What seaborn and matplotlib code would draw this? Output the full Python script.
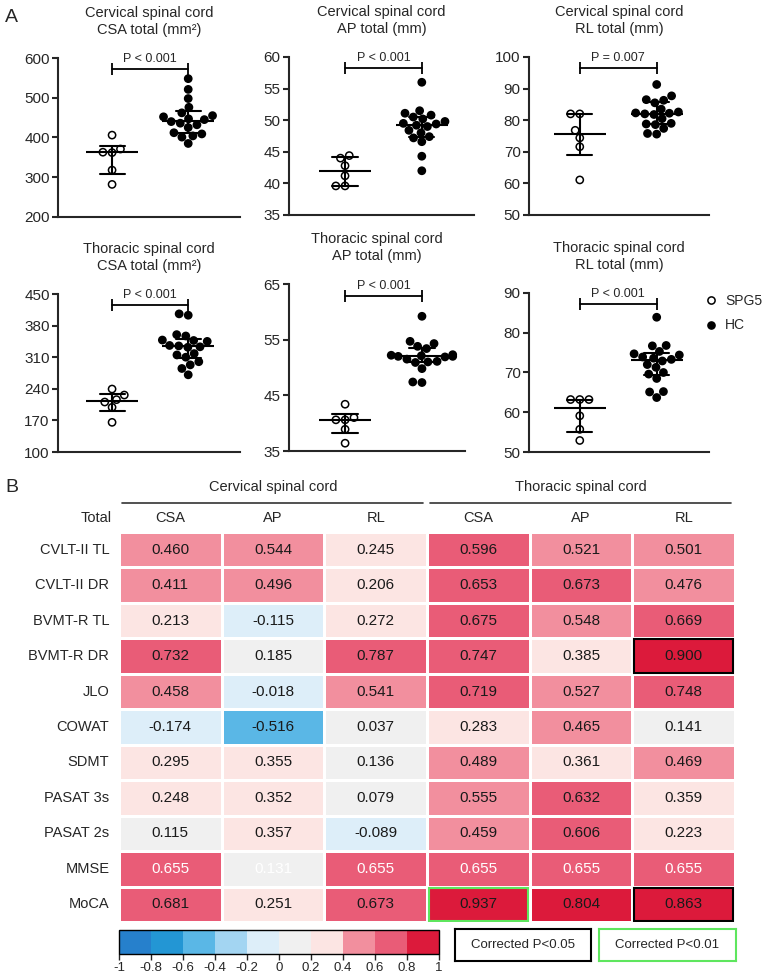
import numpy as np
import pandas as pd
import seaborn as sns
import matplotlib.pyplot as plt
from matplotlib.colors import ListedColormap, BoundaryNorm
from matplotlib.lines import Line2D
from matplotlib.patches import Rectangle

sns.set_style('ticks')
plt.rcParams['font.family'] = ['Liberation Sans', 'DejaVu Sans']

# ---------------- A: dot plots ----------------
groups = ['SPG5', 'HC']

spg5_c_csa = [406, 371, 362, 363, 318, 282]
hc_c_csa = [548, 521, 498, 476, 462, 455, 452, 447, 445, 440, 436, 432, 425, 412, 409, 404, 401, 385]
spg5_c_ap = [44.4, 44.0, 42.8, 41.2, 39.6, 39.6]
hc_c_ap = [56.0, 51.5, 51.1, 50.8, 50.5, 50.2, 49.8, 49.5, 49.4, 49.2, 49.0, 48.4, 48.0, 47.4, 47.2, 46.6, 44.3, 42.0]
spg5_c_rl = [82.0, 82.0, 76.8, 74.4, 71.6, 61.1]
hc_c_rl = [91.3, 87.7, 86.5, 86.3, 85.5, 83.5, 82.6, 82.3, 82.2, 82.0, 81.8, 80.5, 79.0, 78.8, 78.6, 77.4, 75.8, 75.6]
spg5_t_csa = [239.5, 226.2, 216.0, 210.7, 199.0, 165.7]
hc_t_csa = [406, 403, 360, 357, 348, 347, 345, 336, 335, 333, 332, 318, 315, 310, 300, 293, 285, 271]
spg5_t_ap = [43.4, 41.0, 40.6, 40.6, 38.9, 36.4]
hc_t_ap = [59.2, 54.7, 54.3, 53.8, 53.4, 52.3, 52.2, 52.1, 52.0, 52.0, 51.9, 51.5, 51.1, 51.0, 50.9, 49.8, 47.4, 47.3]
spg5_t_rl = [63.2, 63.2, 63.2, 59.1, 55.7, 52.9]
hc_t_rl = [83.9, 76.8, 76.7, 75.3, 74.7, 74.4, 73.9, 73.6, 73.3, 72.9, 72.0, 71.3, 70.0, 69.6, 68.5, 65.2, 65.1, 63.7]

titles = ['Cervical spinal cord\nCSA total (mm\u00b2)', 'Cervical spinal cord\nAP total (mm)',
          'Cervical spinal cord\nRL total (mm)', 'Thoracic spinal cord\nCSA total (mm\u00b2)',
          'Thoracic spinal cord\nAP total (mm)', 'Thoracic spinal cord\nRL total (mm)']
p_texts = ['P < 0.001', 'P < 0.001', 'P = 0.007', 'P < 0.001', 'P < 0.001', 'P < 0.001']
yticks = [np.arange(200, 601, 100), np.arange(35, 61, 5), np.arange(50, 101, 10),
          np.arange(100, 451, 70), np.arange(35, 66, 10), np.arange(50, 91, 10)]
panels = [(spg5_c_csa, hc_c_csa), (spg5_c_ap, hc_c_ap), (spg5_c_rl, hc_c_rl),
          (spg5_t_csa, hc_t_csa), (spg5_t_ap, hc_t_ap), (spg5_t_rl, hc_t_rl)]

# ---------------- B: correlation heatmap ----------------
row_labels = ['CVLT-II TL', 'CVLT-II DR', 'BVMT-R TL', 'BVMT-R DR', 'JLO', 'COWAT',
              'SDMT', 'PASAT 3s', 'PASAT 2s', 'MMSE', 'MoCA']
col_labels = ['CSA', 'AP', 'RL', 'CSA', 'AP', 'RL']
cord_labels = ['Cervical spinal cord', 'Thoracic spinal cord']
corr = np.array([
    [0.460, 0.544, 0.245, 0.596, 0.521, 0.501],
    [0.411, 0.496, 0.206, 0.653, 0.673, 0.476],
    [0.213, -0.115, 0.272, 0.675, 0.548, 0.669],
    [0.732, 0.185, 0.787, 0.747, 0.385, 0.900],
    [0.458, -0.018, 0.541, 0.719, 0.527, 0.748],
    [-0.174, -0.516, 0.037, 0.283, 0.465, 0.141],
    [0.295, 0.355, 0.136, 0.489, 0.361, 0.469],
    [0.248, 0.352, 0.079, 0.555, 0.632, 0.359],
    [0.115, 0.357, -0.089, 0.459, 0.606, 0.223],
    [0.655, 0.131, 0.655, 0.655, 0.655, 0.655],
    [0.681, 0.251, 0.673, 0.937, 0.804, 0.863],
])
green = '#5ee65e'
boxes = [('BVMT-R DR', 5, 'black'), ('MoCA', 3, green), ('MoCA', 5, 'black')]
legend_boxes = [('Corrected P<0.05', 'black'), ('Corrected P<0.01', green)]

cmap_colors = ['#2680cc', '#2396d4', '#5ab7e6', '#a3d5f2', '#ddeef9',
               '#f0f0f0', '#fce5e3', '#f28f9e', '#e95c77', '#dc1a3b']
bounds = np.round(np.linspace(-1, 1, 11), 1)

W, H = 767, 980
fig = plt.figure(figsize=(W / 100, H / 100), dpi=100)


def px(l, t, r, b):
    return [l / W, 1 - b / H, (r - l) / W, (b - t) / H]


rects = [(58, 58, 240, 217), (289, 57, 474, 215), (529, 57, 709, 215),
         (58, 294, 240, 452), (289, 284, 465, 451), (529, 293, 709, 452)]
xlims = [(-0.71, 1.68), (-0.73, 1.68), (-0.66, 1.68),
         (-0.71, 1.68), (-0.73, 1.56), (-0.66, 1.68)]


def iqr(x):
    return (np.percentile(x, 25, method='weibull'), np.percentile(x, 75, method='weibull'))


for i, (spg5, hc) in enumerate(panels):
    ax = fig.add_axes(px(*rects[i]))
    df = pd.DataFrame({'group': ['SPG5'] * len(spg5) + ['HC'] * len(hc),
                       'value': list(spg5) + list(hc)})
    sns.swarmplot(data=df, x='group', y='value', order=groups, hue='group',
                  palette={'SPG5': 'white', 'HC': 'black'}, edgecolor='black',
                  linewidth=1.1, size=5.2, legend=False, ax=ax, zorder=2)
    sns.pointplot(data=df, x='group', y='value', order=groups, estimator='median',
                  errorbar=iqr, color='black', marker='_', markersize=37,
                  markeredgewidth=1.5, linestyle='none', capsize=0.33,
                  err_kws={'linewidth': 1.5}, ax=ax, zorder=3)
    yt = yticks[i]
    ax.set_ylim(yt[0], yt[-1])
    ax.set_yticks(yt)
    ax.set_xlim(*xlims[i])
    ax.set_xticks([])
    ax.set_xlabel('')
    ax.set_ylabel('')
    sns.despine(ax=ax)
    for s in ['left', 'bottom']:
        ax.spines[s].set_linewidth(1.5)
    ax.tick_params(axis='y', length=4, width=1.5, labelsize=11, pad=2)
    ax.set_title(titles[i], fontsize=10.5, pad=17, linespacing=1.3)
    yb = yt[0] + 0.93 * (yt[-1] - yt[0])
    ax.plot([0, 1], [yb, yb], color='black', lw=1.3, marker='|', markersize=8,
            markeredgewidth=1.3, clip_on=False)
    ax.annotate(p_texts[i], (0.5, yb), xytext=(0, 3), textcoords='offset points',
                ha='center', va='bottom', fontsize=9)
    if i == 5:
        handles = [Line2D([], [], ls='none', marker='o', markersize=5.2, mfc='white',
                          mec='black', mew=1.1),
                   Line2D([], [], ls='none', marker='o', markersize=5.2, mfc='black',
                          mec='black')]
        fig.legend(handles, groups, loc='upper left', bbox_to_anchor=(704 / W, 1 - 294 / H),
                   frameon=False, fontsize=10, handlelength=1, handletextpad=0.5,
                   labelspacing=0.75, borderpad=0, borderaxespad=0)

fig.text(5 / W, 1 - 17 / H, 'A', fontsize=14, va='center')
fig.text(5 / W, 1 - 487 / H, 'B', fontsize=14, va='center')

# heatmap
hax = fig.add_axes(px(119, 532, 735, 922))
cax = fig.add_axes(px(119, 930, 439, 954))
sns.heatmap(np.round(corr, 2), annot=corr, fmt='.3f', cmap=ListedColormap(cmap_colors),
            norm=BoundaryNorm(bounds, len(cmap_colors)), linewidths=0.8, linecolor='white',
            annot_kws={'color': '0.1', 'fontsize': 11}, xticklabels=col_labels,
            yticklabels=row_labels, cbar_ax=cax,
            cbar_kws={'orientation': 'horizontal', 'ticks': bounds}, ax=hax)
hax.xaxis.tick_top()
hax.tick_params(axis='x', length=0, pad=5, labelsize=10.5)
hax.tick_params(axis='y', length=0, pad=7, labelsize=10.5, rotation=0)
mmse = row_labels.index('MMSE')
for t in hax.texts:
    if int(t.get_position()[1]) == mmse:
        t.set_color('white')
for lab, c, col in boxes:
    r = row_labels.index(lab)
    hax.add_patch(Rectangle((c + 0.015, r + 0.03), 0.97, 0.94, fill=False,
                            edgecolor=col, lw=1.5, zorder=5))
hax.text(-0.075, -0.39, 'Total', ha='right', va='center', fontsize=10.5)
for k, lab in enumerate(cord_labels):
    hax.text(3 * k + 1.5, -1.27, lab, ha='center', va='center', fontsize=10.5)
    hax.plot([3 * k + 0.03, 3 * k + 2.96], [-0.82, -0.82], color='#333333', lw=1.2,
             clip_on=False)

cb = hax.collections[0].colorbar
cb.outline.set_linewidth(1)
cb.outline.set_edgecolor('black')
cax.set_xticklabels([f'{v + 0.0:g}' for v in bounds])
cax.tick_params(length=4, width=1, labelsize=9.5, pad=2)

# significance key boxes
for (txt, col), (l, r) in zip(legend_boxes, [(455, 591), (599, 736)]):
    bax = fig.add_axes(px(l, 929, r, 961))
    bax.set_xticks([])
    bax.set_yticks([])
    for s in bax.spines.values():
        s.set_edgecolor(col)
        s.set_linewidth(1.5)
    bax.text(0.5, 0.5, txt, ha='center', va='center', fontsize=9.5, transform=bax.transAxes)

fig.savefig('out.png', dpi=100)
